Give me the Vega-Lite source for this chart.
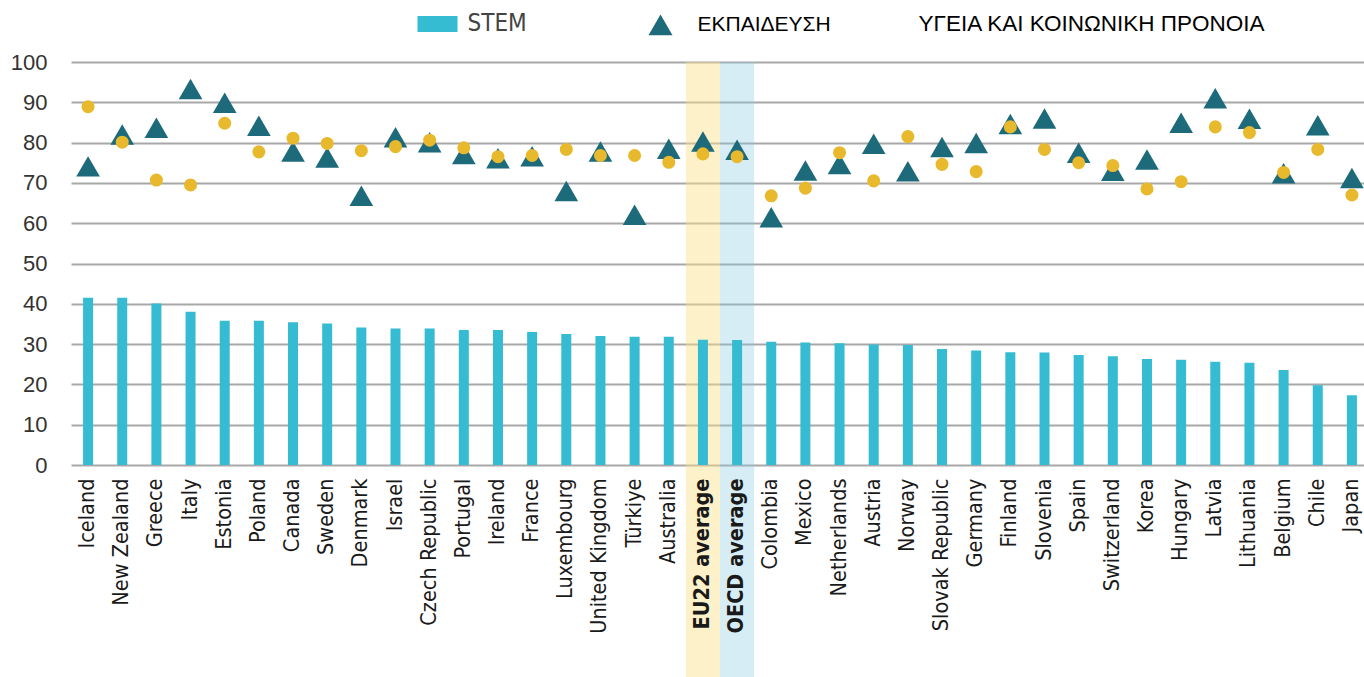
{
  "$schema": "https://vega.github.io/schema/vega-lite/v6.json",
  "autosize": {"type": "none"},
  "width": 1295,
  "height": 403,
  "padding": {"left": 69, "top": 62, "right": 0, "bottom": 212},
  "background": "#ffffff",
  "config": {"view": {"stroke": null}},
  "data": {"values": [
    {"country": "Iceland", "stem": 41.5, "edu": 74.1, "health": 88.9},
    {"country": "New Zealand", "stem": 41.5, "edu": 82.0, "health": 80.1},
    {"country": "Greece", "stem": 40.1, "edu": 83.7, "health": 70.7},
    {"country": "Italy", "stem": 38.0, "edu": 93.3, "health": 69.5},
    {"country": "Estonia", "stem": 35.8, "edu": 89.9, "health": 84.8},
    {"country": "Poland", "stem": 35.8, "edu": 84.2, "health": 77.7},
    {"country": "Canada", "stem": 35.4, "edu": 77.8, "health": 81.1},
    {"country": "Sweden", "stem": 35.1, "edu": 76.3, "health": 79.8},
    {"country": "Denmark", "stem": 34.1, "edu": 66.8, "health": 78.0},
    {"country": "Israel", "stem": 33.9, "edu": 81.3, "health": 79.0},
    {"country": "Czech Republic", "stem": 33.9, "edu": 80.1, "health": 80.6},
    {"country": "Portugal", "stem": 33.5, "edu": 77.2, "health": 78.7},
    {"country": "Ireland", "stem": 33.5, "edu": 76.1, "health": 76.5},
    {"country": "France", "stem": 33.0, "edu": 76.6, "health": 76.8},
    {"country": "Luxembourg", "stem": 32.5, "edu": 68.0, "health": 78.3},
    {"country": "United Kingdom", "stem": 32.0, "edu": 77.8, "health": 76.8},
    {"country": "Türkiye", "stem": 31.8, "edu": 62.1, "health": 76.8},
    {"country": "Australia", "stem": 31.8, "edu": 78.5, "health": 75.1},
    {"country": "EU22 average", "stem": 31.1, "edu": 80.3, "health": 77.2},
    {"country": "OECD average", "stem": 31.0, "edu": 78.2, "health": 76.5},
    {"country": "Colombia", "stem": 30.6, "edu": 61.5, "health": 66.8},
    {"country": "Mexico", "stem": 30.4, "edu": 73.1, "health": 68.7},
    {"country": "Netherlands", "stem": 30.2, "edu": 74.7, "health": 77.5},
    {"country": "Austria", "stem": 29.9, "edu": 79.7, "health": 70.5},
    {"country": "Norway", "stem": 29.8, "edu": 72.9, "health": 81.5},
    {"country": "Slovak Republic", "stem": 28.8, "edu": 78.9, "health": 74.6},
    {"country": "Germany", "stem": 28.4, "edu": 79.9, "health": 72.8},
    {"country": "Finland", "stem": 28.0, "edu": 84.6, "health": 83.9},
    {"country": "Slovenia", "stem": 27.9, "edu": 86.0, "health": 78.3},
    {"country": "Spain", "stem": 27.3, "edu": 77.5, "health": 75.0},
    {"country": "Switzerland", "stem": 27.0, "edu": 73.0, "health": 74.3},
    {"country": "Korea", "stem": 26.3, "edu": 75.8, "health": 68.5},
    {"country": "Hungary", "stem": 26.1, "edu": 84.9, "health": 70.3},
    {"country": "Latvia", "stem": 25.6, "edu": 91.0, "health": 83.9},
    {"country": "Lithuania", "stem": 25.4, "edu": 85.9, "health": 82.5},
    {"country": "Belgium", "stem": 23.6, "edu": 72.4, "health": 72.6},
    {"country": "Chile", "stem": 19.8, "edu": 84.3, "health": 78.3},
    {"country": "Japan", "stem": 17.3, "edu": 71.2, "health": 67.0}
  ]},
  "encoding": {
    "x": {
      "field": "country", "type": "nominal", "sort": null,
      "scale": {
        "type": "band", "paddingInner": 0, "paddingOuter": 0, "range": [2, 1300],
        "domain": ["Iceland", "New Zealand", "Greece", "Italy", "Estonia", "Poland", "Canada", "Sweden", "Denmark", "Israel", "Czech Republic", "Portugal", "Ireland", "France", "Luxembourg", "United Kingdom", "Türkiye", "Australia", "EU22 average", "OECD average", "Colombia", "Mexico", "Netherlands", "Austria", "Norway", "Slovak Republic", "Germany", "Finland", "Slovenia", "Spain", "Switzerland", "Korea", "Hungary", "Latvia", "Lithuania", "Belgium", "Chile", "Japan"]
      },
      "axis": {
        "title": null, "labelAngle": -90, "ticks": false, "domain": false, "labelPadding": 13,
        "labelFont": "DejaVu Sans Condensed, Liberation Sans, sans-serif", "labelFontSize": 21.5, "labelColor": "#1a1a1a",
        "labelFontWeight": {"condition": {"test": "datum.value === 'EU22 average' || datum.value === 'OECD average'", "value": "bold"}, "value": "normal"},
        "labelOverlap": false, "labelLimit": 0, "zindex": 1
      }
    }
  },
  "layer": [
    {
      "transform": [{"filter": "datum.country === 'EU22 average'"}],
      "mark": {"type": "rect", "fill": "#FBE08A", "fillOpacity": 0.45, "clip": false},
      "encoding": {"y": {"datum": 100, "type": "quantitative"}, "y2": {"datum": -53}}
    },
    {
      "transform": [{"filter": "datum.country === 'OECD average'"}],
      "mark": {"type": "rect", "fill": "#8CCCE4", "fillOpacity": 0.35, "clip": false},
      "encoding": {"y": {"datum": 100, "type": "quantitative"}, "y2": {"datum": -53}}
    },
    {
      "mark": {"type": "bar", "width": 10},
      "encoding": {
        "y": {
          "field": "stem", "type": "quantitative",
          "scale": {"domain": [0, 100], "nice": false, "zero": true},
          "axis": {
            "title": null, "values": [0, 10, 20, 30, 40, 50, 60, 70, 80, 90, 100],
            "domain": false, "ticks": false, "labelPadding": 22,
            "labelFont": "Liberation Sans", "labelFontSize": 22, "labelColor": "#333333",
            "grid": true, "gridColor": "#A8A8A8", "gridWidth": 1.8
          }
        },
        "color": {
          "datum": "STEM", "type": "nominal",
          "scale": {
            "domain": ["STEM", "ΕΚΠΑΙΔΕΥΣΗ", "ΥΓΕΙΑ ΚΑΙ ΚΟΙΝΩΝΙΚΗ ΠΡΟΝΟΙΑ"],
            "range": ["#35BBD2", "#1C6A7A", "#E8B92C"]
          },
          "legend": {
            "orient": "none", "legendX": 348.5, "legendY": -58, "direction": "horizontal",
            "title": null, "padding": 0, "symbolSize": 1600, "symbolStrokeWidth": 0,
            "labelOffset": 10, "columnPadding": 87, "labelLimit": 0,
            "labelFont": "DejaVu Sans Condensed, Liberation Sans, sans-serif", "labelFontSize": 22, "labelColor": "#444444",
            "encode": {
              "symbols": {"update": {
                "shape": {"signal": "datum.value === 'STEM' ? 'M-1,-0.4H1V0.4H-1Z' : 'M-2.3,0M0,-0.52L0.6,0.52L-0.6,0.52Z'"},
                "opacity": {"signal": "datum.value === 'ΥΓΕΙΑ ΚΑΙ ΚΟΙΝΩΝΙΚΗ ΠΡΟΝΟΙΑ' ? 0 : 1"}
              }},
              "labels": {"update": {
                "font": {"signal": "datum.value === 'STEM' ? 'DejaVu Sans Condensed, Liberation Sans, sans-serif' : 'Liberation Sans'"},
                "fontSize": {"signal": "datum.value === 'STEM' ? 24 : datum.value === 'ΕΚΠΑΙΔΕΥΣΗ' ? 21 : 22.5"},
                "fill": {"signal": "datum.value === 'STEM' ? '#444444' : '#000000'"},
                "dx": {"signal": "datum.value === 'ΕΚΠΑΙΔΕΥΣΗ' ? 7 : datum.value === 'STEM' ? 0 : -157"}
              }}
            }
          }
        }
      }
    },
    {
      "mark": {"type": "point", "shape": "triangle-up", "filled": true, "opacity": 1, "size": 560},
      "encoding": {
        "y": {"field": "edu", "type": "quantitative"},
        "color": {"datum": "ΕΚΠΑΙΔΕΥΣΗ", "type": "nominal"}
      }
    },
    {
      "mark": {"type": "point", "shape": "circle", "filled": true, "opacity": 1, "size": 170},
      "encoding": {
        "y": {"field": "health", "type": "quantitative"},
        "color": {"datum": "ΥΓΕΙΑ ΚΑΙ ΚΟΙΝΩΝΙΚΗ ΠΡΟΝΟΙΑ", "type": "nominal"}
      }
    }
  ]
}
